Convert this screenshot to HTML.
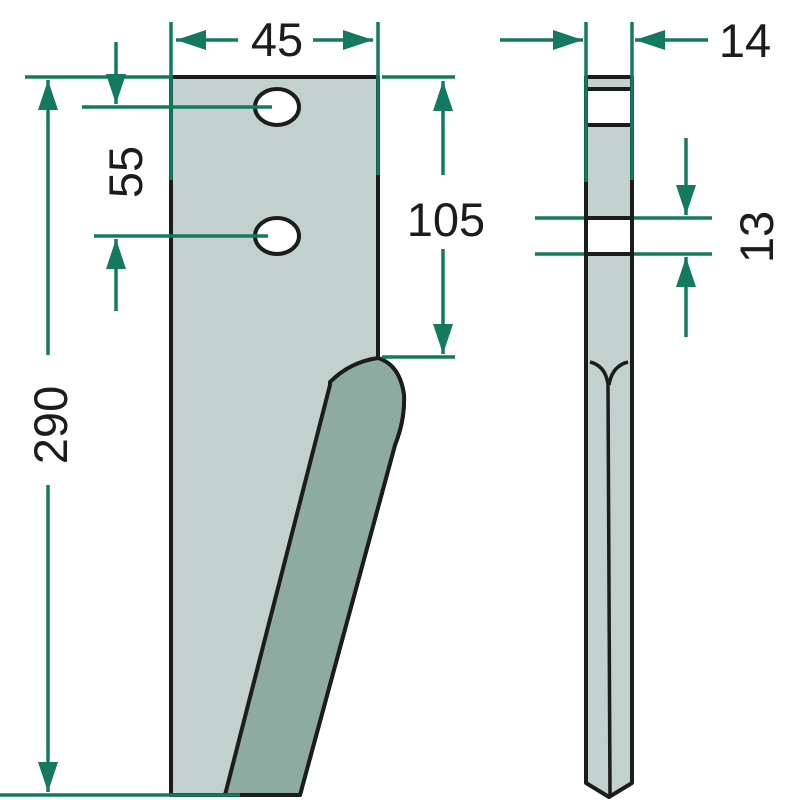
<!DOCTYPE html>
<html><head><meta charset="utf-8"><style>html,body{margin:0;padding:0;background:#fff}svg{display:block}</style></head>
<body>
<svg width="800" height="800" viewBox="0 0 800 800" xmlns="http://www.w3.org/2000/svg">
<defs>
<marker id="a" viewBox="0 0 30 20" refX="30" refY="10" markerWidth="30" markerHeight="20" markerUnits="userSpaceOnUse" orient="auto"><path d="M0,0 L30,10 L0,20 Z" fill="#137a5f"/></marker>
</defs>
<g stroke="#1c1c1c" stroke-width="4" stroke-linejoin="round">
<path d="M171,77 L378,77 L378,358 Q400,365 404,395 Q405,420 395,445 L300,795 L171,795 Z" fill="#c2d1cd"/>
<ellipse cx="277" cy="107" rx="22" ry="18" fill="#fff"/>
<ellipse cx="277" cy="236" rx="22" ry="18" fill="#fff"/>
<path d="M330,382 Q350,362 378,358 Q400,365 404,395 Q405,420 395,445 L300,795 L225,795 L330,385 Z" fill="#8eaba2"/>
<path d="M586,77 L632,77 L632,783 L609,797 L586,783 Z" fill="#c2d1cd"/>
<rect x="586" y="89" width="46" height="36" fill="#fff"/>
<rect x="586" y="218" width="46" height="36" fill="#fff"/>
<path d="M590,362 Q606,366 608,385 L610,795 M628,362 Q612,366 609,385" fill="none" stroke-width="3.5"/>
</g>
<g stroke="#137a5f" stroke-width="3.5" fill="none">
<line x1="171" y1="22" x2="171" y2="180"/>
<line x1="378" y1="22" x2="378" y2="175"/>
<line x1="238" y1="40" x2="176" y2="40" marker-end="url(#a)"/>
<line x1="313" y1="40" x2="373" y2="40" marker-end="url(#a)"/>
<line x1="25" y1="77" x2="170" y2="77"/>
<line x1="382" y1="77" x2="455" y2="77"/>
<line x1="0" y1="795" x2="240" y2="795"/>
<line x1="48" y1="355" x2="48" y2="80" marker-end="url(#a)"/>
<line x1="48" y1="485" x2="48" y2="792" marker-end="url(#a)"/>
<line x1="82" y1="107" x2="272" y2="107"/>
<line x1="94" y1="236" x2="268" y2="236"/>
<line x1="116" y1="42" x2="116" y2="104" marker-end="url(#a)"/>
<line x1="116" y1="311" x2="116" y2="239" marker-end="url(#a)"/>
<line x1="382" y1="357" x2="455" y2="357"/>
<line x1="443" y1="175" x2="443" y2="81" marker-end="url(#a)"/>
<line x1="443" y1="249" x2="443" y2="354" marker-end="url(#a)"/>
<line x1="586" y1="22" x2="586" y2="182"/>
<line x1="632" y1="22" x2="632" y2="180"/>
<line x1="500" y1="40" x2="583" y2="40" marker-end="url(#a)"/>
<line x1="708" y1="40" x2="635" y2="40" marker-end="url(#a)"/>
<line x1="535" y1="218" x2="584" y2="218"/>
<line x1="634" y1="218" x2="712" y2="218"/>
<line x1="535" y1="254" x2="584" y2="254"/>
<line x1="634" y1="254" x2="712" y2="254"/>
<line x1="686" y1="138" x2="686" y2="215" marker-end="url(#a)"/>
<line x1="686" y1="337" x2="686" y2="257" marker-end="url(#a)"/>
</g>
<g font-family="Liberation Sans, sans-serif" font-size="47" fill="#1c1c1c" text-anchor="middle">
<text x="277" y="56">45</text>
<text x="745" y="57">14</text>
<text x="446" y="236">105</text>
<text transform="translate(142,172) rotate(-90)">55</text>
<text transform="translate(67,425) rotate(-90)">290</text>
<text transform="translate(773,237) rotate(-90)">13</text>
</g>
</svg>
</body></html>
